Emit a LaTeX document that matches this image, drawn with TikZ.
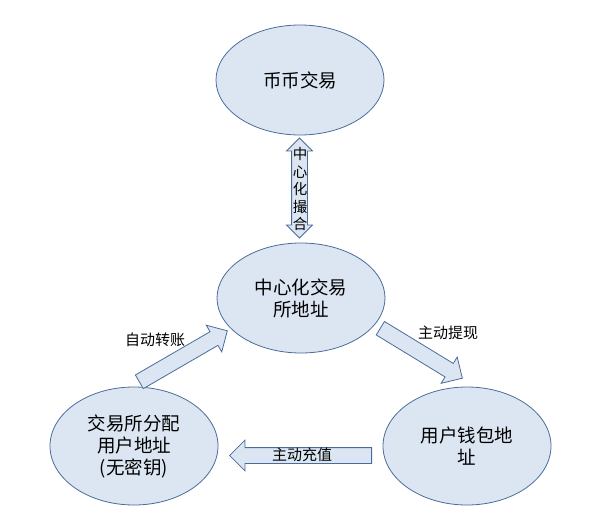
\documentclass[tikz,border=0pt]{standalone}
\usepackage{fontspec}
\setmainfont{Noto Sans CJK SC}
\usetikzlibrary{shapes.geometric, shapes.arrows, calc}
\definecolor{cfill}{HTML}{DCE6F2}
\definecolor{cline}{HTML}{4A6C9B}
\tikzset{
  every picture/.style={line width=0.8pt},
  blob/.style={ellipse, draw=cline, fill=cfill, align=center, inner sep=0pt, minimum width=168pt, minimum height=#1, font=\fontsize{18.5}{22}\selectfont},
  blob/.default=110pt,
  fat/.style={single arrow, draw=cline, fill=cfill, inner sep=0pt, inner ysep=7.5pt, single arrow head extend=7.5pt, anchor=tail},
  twin/.style={double arrow, draw=cline, fill=cfill, inner sep=0pt, inner ysep=7.5pt, double arrow head extend=5pt},
  lbl/.style={font=\fontsize{15}{18}\selectfont, inner sep=0pt},
}
% block arrow from one coordinate to another
\newcommand{\fatarrow}[3][]{%
  \path let \p1=($(#3)-(#2)$), \n1={atan2(\y1,\x1)}, \n2={veclen(\x1,\y1)} in
    node[fat, #1, rotate=\n1, minimum height=\n2] at (#2) {};}

\begin{document}
\begin{tikzpicture}[x=1pt, y=-1pt]
  \useasboundingbox (0,0) rectangle (600,524);
  % ellipses
  \node[blob] (bb) at (300,80) {币币交易};
  \node[blob] (cex) at (301,298) {中心化交易\\所地址};
  \node[blob=118pt] (dep) at (134,446) {交易所分配\\用户地址\\(无密钥)};
  \node[blob=118pt] (wal) at (467,446) {用户钱包地\\址};
  % arrows
  \node[twin, rotate=90, minimum height=100pt] (mh) at (299.5,188) {};
  \node[lbl, align=center, font=\fontsize{14.5}{17.5}\selectfont] (mht) at (300,189) {中\\心\\化\\撮\\合};
  \coordinate (a1) at (139,382); \coordinate (b1) at (227,331);
  \coordinate (a2) at (380,328); \coordinate (b2) at (462,378);
  \coordinate (a3) at (372,455.5); \coordinate (b3) at (230,455.5);
  \fatarrow[name=zz]{a1}{b1}
  \fatarrow[name=tx]{a2}{b2}
  \fatarrow[name=cz]{a3}{b3}
  \node[lbl] (zzt) at (155,340) {自动转账};
  \node[lbl] (txt) at (448,333) {主动提现};
  \node[lbl] (czt) at (302,455) {主动充值};
\end{tikzpicture}
\end{document}
